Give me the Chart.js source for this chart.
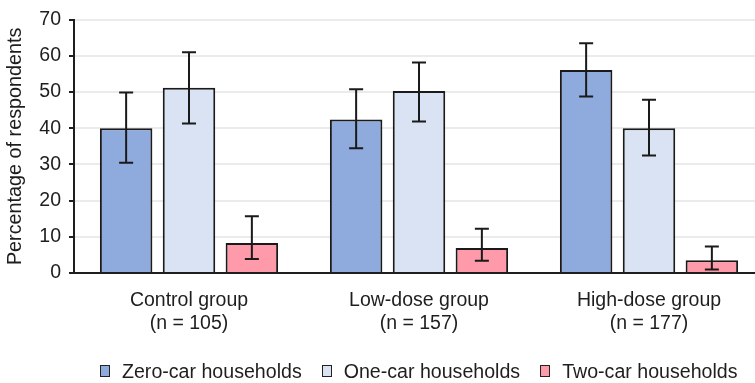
<!DOCTYPE html>
<html>
<head>
<meta charset="utf-8">
<script src="https://cdn.jsdelivr.net/npm/chart.js@4/dist/chart.umd.min.js"></script>
<style>
  html, body { margin: 0; padding: 0; background: #fff; overflow: hidden; }
  #wrap { position: relative; width: 755px; height: 383px; overflow: hidden; }
  #chart { position: absolute; left: 0; top: 0; }
  #legend {
    position: absolute; left: 100px; top: 360px;
    display: flex; align-items: center;
    font: 19.6px "Liberation Sans", Arial, sans-serif; color: #1e1e1e;
    white-space: nowrap;
  }
  #legend .item { display: flex; align-items: center; margin-right: 20px; line-height: 22px; }
  #legend .box { width: 8px; height: 10px; border: 1.5px solid #222; margin-right: 12px; }
</style>
</head>
<body>
<div id="wrap">
  <canvas id="chart" width="770" height="383"></canvas>
  <div id="legend"></div>
</div>
<script>
// groups on the x axis (two-line labels)
const groups = [
    ["Control group", "(n = 105)"],
    ["Low-dose group", "(n = 157)"],
    ["High-dose group", "(n = 177)"],
];
const seriesNames = ["Zero-car households", "One-car households", "Two-car households"];
const seriesColors = ["#8faadc", "#dae3f3", "#ff9aab"];

// percentages per group
const zeroCar = [40.0, 42.4, 56.1];
const oneCar = [51.2, 50.3, 40.0];
const twoCar = [8.3, 6.9, 3.5];

// error bar ends (upper / lower)
const zeroCarHigh = [49.9, 50.8, 63.5];
const zeroCarLow = [30.5, 34.5, 48.8];
const oneCarHigh = [61.0, 58.2, 47.9];
const oneCarLow = [41.3, 41.9, 32.5];
const twoCarHigh = [15.7, 12.2, 7.3];
const twoCarLow = [3.9, 3.4, 1.0];

const yTicks = [0, 10, 20, 30, 40, 50, 60, 70];

const FONT = "'Liberation Sans', Arial, sans-serif";
const INK = "#1e1e1e";

// whiskers with caps, drawn on top of the bars
const errorBars = {
    id: "errorBars",
    afterDatasetsDraw(chart) {
        const ctx = chart.ctx;
        const yScale = chart.scales.y;
        ctx.save();
        ctx.strokeStyle = "#1a1a1a";
        ctx.lineWidth = 2;
        chart.data.datasets.forEach((ds, i) => {
            const meta = chart.getDatasetMeta(i);
            meta.data.forEach((bar, j) => {
                const top = yScale.getPixelForValue(ds.errHigh[j]);
                const bottom = yScale.getPixelForValue(ds.errLow[j]);
                const x = bar.x;
                ctx.beginPath();
                ctx.moveTo(x, top);
                ctx.lineTo(x, bottom);
                ctx.moveTo(x - 7, top);
                ctx.lineTo(x + 7, top);
                ctx.moveTo(x - 7, bottom);
                ctx.lineTo(x + 7, bottom);
                ctx.stroke();
            });
        });
        ctx.restore();
    }
};

const values = [zeroCar, oneCar, twoCar];
const highs = [zeroCarHigh, oneCarHigh, twoCarHigh];
const lows = [zeroCarLow, oneCarLow, twoCarLow];

const datasets = seriesNames.map((name, i) => ({
    label: name,
    data: values[i],
    errHigh: highs[i],
    errLow: lows[i],
    backgroundColor: seriesColors[i],
    borderColor: "#1a1a1a",
    borderWidth: 2,
    categoryPercentage: 0.82,
    barPercentage: 0.835,
}));

new Chart(document.getElementById("chart"), {
    type: "bar",
    data: { labels: groups, datasets: datasets },
    plugins: [errorBars],
    options: {
        responsive: false,
        animation: false,
        devicePixelRatio: 1,
        layout: { padding: { top: 18, right: 6, left: 0, bottom: 0 } },
        plugins: {
            legend: { display: false },
            tooltip: { enabled: false },
        },
        scales: {
            x: {
                grid: { display: false, drawTicks: false },
                border: { display: true, color: INK, width: 2 },
                ticks: {
                    color: INK,
                    font: { family: FONT, size: 19.5 },
                    padding: 16,
                    maxRotation: 0,
                    autoSkip: false,
                },
                afterFit(scale) { scale.height = 110; },
            },
            y: {
                min: 0,
                max: 70,
                afterBuildTicks(scale) {
                    scale.ticks = yTicks.map(v => ({ value: v }));
                },
                grid: {
                    color: "#ebebeb",
                    lineWidth: 2,
                    tickColor: INK,
                    tickLength: 5,
                    tickWidth: 2,
                },
                border: { display: true, color: INK, width: 2 },
                ticks: {
                    color: INK,
                    font: { family: FONT, size: 19.5 },
                    padding: 8,
                },
                title: {
                    display: true,
                    text: "Percentage of respondents",
                    color: INK,
                    font: { family: FONT, size: 19.8 },
                    padding: { top: 4, bottom: 4 },
                },
                afterFit(scale) { scale.width = 74; },
            },
        },
    },
});

// legend row under the chart
const legend = document.getElementById("legend");
seriesNames.forEach((name, i) => {
    const item = document.createElement("div");
    item.className = "item";
    const box = document.createElement("span");
    box.className = "box";
    box.style.background = seriesColors[i];
    const label = document.createElement("span");
    label.textContent = name;
    item.appendChild(box);
    item.appendChild(label);
    legend.appendChild(item);
});
</script>
</body>
</html>
